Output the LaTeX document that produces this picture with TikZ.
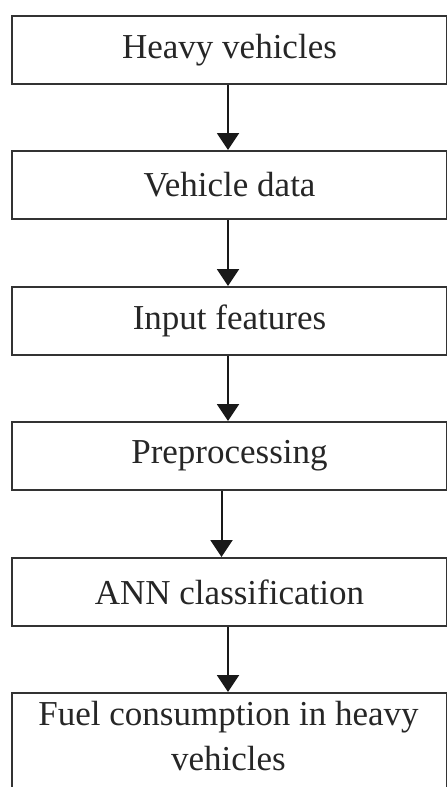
\documentclass[tikz,border=0pt]{standalone}
\usepackage{fontspec}
\setmainfont{Liberation Serif}
\usetikzlibrary{arrows.meta}
\begin{document}
\begin{tikzpicture}[x=1pt,y=-1pt,
  box/.style={draw=black!80, line width=2pt, minimum width=435pt, minimum height=68pt,
    inner sep=0pt, anchor=north west, text=black!85,
    font=\fontsize{35}{45}\selectfont, align=center},
  lbl/.style={inner sep=0pt, text=black!85, font=\fontsize{35}{45}\selectfont, align=center},
  flow/.style={-{Triangle[width=22pt,length=17pt]}, line width=2pt, draw=black!90}]
\useasboundingbox (0,0) rectangle (447,787);
\node[box] (a) at (11,15) {Heavy vehicles};
\node[box] (b) at (11,150) {Vehicle data};
\node[box] (c) at (11,286) {Input features};
\node[box] (d) at (11,421) {Preprocessing};
\node[box] (e) at (11,557) {ANN classification};
\node[box, minimum height=110pt] (f) at (11,692) {};
\node[lbl, anchor=base] (ft) at (228.5,770) {Fuel consumption in heavy\\vehicles};
\draw[flow] ([xshift=-1.5pt]a.south) -- ([xshift=-1.5pt]b.north);
\draw[flow] ([xshift=-1.5pt]b.south) -- ([xshift=-1.5pt]c.north);
\draw[flow] ([xshift=-1.5pt]c.south) -- ([xshift=-1.5pt]d.north);
\draw[flow] ([xshift=-8pt]d.south) -- ([xshift=-8pt]e.north);
\draw[flow] ([xshift=-1.5pt]e.south) -- ([xshift=-1.5pt]f.north);
\end{tikzpicture}
\end{document}
